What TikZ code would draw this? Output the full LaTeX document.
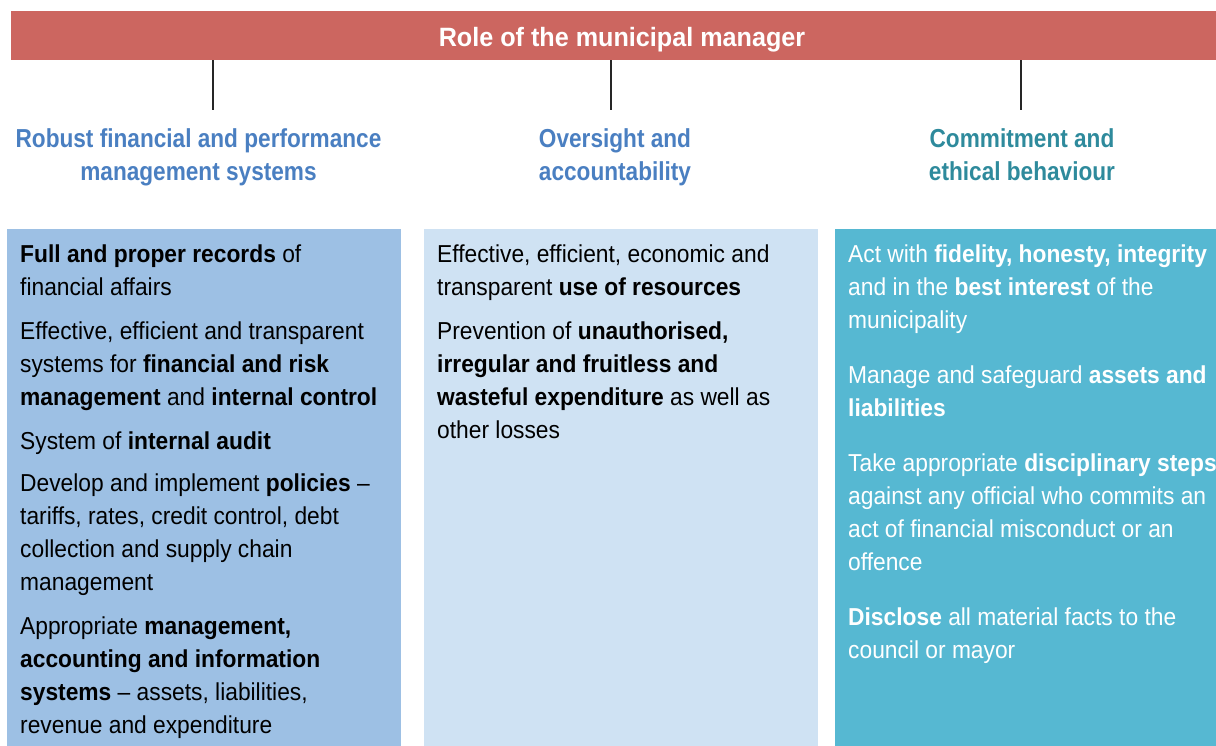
\documentclass[tikz,border=0pt]{standalone}
\usepackage{fontspec}
\setmainfont{Liberation Sans}[FakeStretch=0.93]
\newfontfamily\headfont{Liberation Sans}[FakeStretch=0.87]
\newfontfamily\titlefont{Liberation Sans}[FakeStretch=0.95]
\definecolor{banner}{HTML}{CC6660}
\definecolor{boxA}{HTML}{9DC0E4}
\definecolor{boxB}{HTML}{CFE2F3}
\definecolor{boxC}{HTML}{56B8D2}
\definecolor{headA}{HTML}{4A7FC1}
\definecolor{headC}{HTML}{2E8A9C}
\tikzset{
  colbox/.style={anchor=north west, inner sep=0pt, minimum height=517pt},
  headtxt/.style={font=\headfont\fontsize{26}{33}\selectfont\bfseries, align=center, anchor=north, inner sep=0pt},
  bodytxt/.style={font=\fontsize{24.5}{33}\selectfont, align=left, anchor=north west, inner sep=0pt},
  link/.style={draw=black!85, line width=1.6pt}
}
\begin{document}
\begin{tikzpicture}[x=1pt,y=-1pt]
\useasboundingbox (0,0) rectangle (1216,746);
\node[fill=banner, anchor=north west, minimum width=1205pt, minimum height=49pt, inner sep=0pt] (hdr) at (11,11) {};
\node[font=\titlefont\fontsize{26.5}{30}\selectfont\bfseries, text=white, anchor=base, inner sep=0pt] (title) at (622,47) {Role of the municipal manager};

\node[headtxt, text=headA] (h1) at (198.5,123.9) {\strut Robust financial and performance\\management systems};
\node[headtxt, text=headA] (h2) at (615,123.9) {\strut Oversight and\\accountability};
\node[headtxt, text=headC] (h3) at (1022,123.9) {\strut Commitment and\\ethical behaviour};

\coordinate (c1) at (213,110);
\coordinate (c2) at (611,110);
\coordinate (c3) at (1021,110);
\draw[link] (hdr.south -| c1) -- (c1);
\draw[link] (hdr.south -| c2) -- (c2);
\draw[link] (hdr.south -| c3) -- (c3);

\node[colbox, fill=boxA, minimum width=394pt] (b1) at (7,229) {};
\node[colbox, fill=boxB, minimum width=394pt] (b2) at (424,229) {};
\node[colbox, fill=boxC, minimum width=381pt] (b3) at (835,229) {};

\node[bodytxt, text=black] (t1) at (20,238.9) {\strut\textbf{Full and proper records} of\\
financial affairs\\[11pt]
Effective, efficient and transparent\\
systems for \textbf{financial and risk}\\
\textbf{management} and \textbf{internal control}\\[11pt]
System of \textbf{internal audit}\\[9pt]
Develop and implement \textbf{policies} –\\
tariffs, rates, credit control, debt\\
collection and supply chain\\
management\\[11pt]
Appropriate \textbf{management,}\\
\textbf{accounting and information}\\
\textbf{systems} – assets, liabilities,\\
revenue and expenditure};

\node[bodytxt, text=black] (t2) at (437,238.9) {\strut Effective, efficient, economic and\\
transparent \textbf{use of resources}\\[11pt]
Prevention of \textbf{unauthorised,}\\
\textbf{irregular and fruitless and}\\
\textbf{wasteful expenditure} as well as\\
other losses};

\node[bodytxt, text=white] (t3) at (848,238.9) {\strut Act with \textbf{fidelity, honesty, integrity}\\
and in the \textbf{best interest} of the\\
municipality\\[22pt]
Manage and safeguard \textbf{assets and}\\
\textbf{liabilities}\\[22pt]
Take appropriate \textbf{disciplinary steps}\\
against any official who commits an\\
act of financial misconduct or an\\
offence\\[22pt]
\textbf{Disclose} all material facts to the\\
council or mayor};
\end{tikzpicture}
\end{document}
